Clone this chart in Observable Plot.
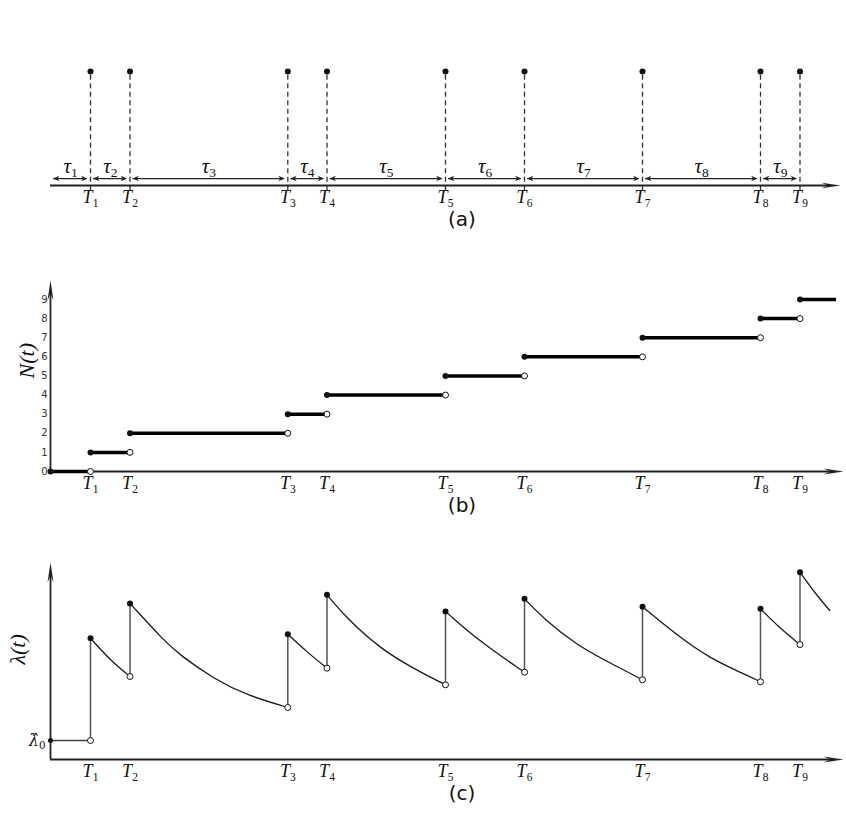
<!DOCTYPE html>
<html>
<head>
<meta charset="utf-8">
<script src="https://cdn.jsdelivr.net/npm/d3@7"></script>
<script src="https://cdn.jsdelivr.net/npm/@observablehq/plot@0.6"></script>
<style>
  html, body { margin: 0; padding: 0; background: white; }
  #chart svg { display: block; overflow: visible; }
</style>
</head>
<body>
<div id="chart"></div>
<script>
// ---- data ----
const eventTimes = [4.0, 7.95, 23.73, 27.65, 39.5, 47.4, 59.2, 71.0, 74.95];
const eventNames = ["T_1", "T_2", "T_3", "T_4", "T_5", "T_6", "T_7", "T_8", "T_9"];
const intervalNames = ["τ_1", "τ_2", "τ_3", "τ_4", "τ_5", "τ_6", "τ_7", "τ_8", "τ_9"];
const countTicks = [0, 1, 2, 3, 4, 5, 6, 7, 8, 9];
const countLevels = [0, 1, 2, 3, 4, 5, 6, 7, 8, 9];
const tAxisEnd = 79.3;
const tStepEnd = 78.6;
const tCurveEnd = 77.93;
const lambda0 = 0.19;
const lambdaPeak = [1.213, 1.56, 1.253, 1.647, 1.48, 1.607, 1.527, 1.507, 1.873];
const lambdaBefore = [0.19, 0.83, 0.52, 0.913, 0.747, 0.873, 0.797, 0.777, 1.15];
const lambdaEnd = 1.49;
const decayTimes = [[6.0], [11.33, 13.0, 16.33, 19.67], [25.67], [29.67, 33.0, 36.33], [43.0], [49.33, 52.67, 56.0], [62.67, 66.0, 69.33], [73.0], [76.5]];
const decayValues = [[0.99], [1.19, 1.04, 0.807, 0.64], [1.073], [1.407, 1.107, 0.907], [1.173], [1.407, 1.14, 0.963], [1.24, 1.007, 0.857], [1.307], [1.657]];
const panelCaptions = ["(a)", "(b)", "(c)"];

// ---- derived tables ----
const intervals = eventTimes.map((t, i) => ({start: i === 0 ? 0 : eventTimes[i - 1], end: t, name: intervalNames[i]}));
const events = eventTimes.map((t, i) => ({t, name: eventNames[i]}));
const steps = countLevels.map((k, i) => ({level: k, start: i === 0 ? 0 : eventTimes[i - 1], end: i < eventTimes.length ? eventTimes[i] : tStepEnd}));
const decay = [];
eventTimes.forEach((t, i) => {
  decay.push({seg: i, t, l: lambdaPeak[i]});
  decayTimes[i].forEach((tt, j) => decay.push({seg: i, t: tt, l: decayValues[i][j]}));
  const last = i + 1 < eventTimes.length;
  decay.push({seg: i, t: last ? eventTimes[i + 1] : tCurveEnd, l: last ? lambdaBefore[i + 1] : lambdaEnd});
});
const jumps = eventTimes.map((t, i) => ({t, lo: lambdaBefore[i], hi: lambdaPeak[i]}));

// ---- arrowhead symbols (tip at origin), length = 2r ----
function arrowSymbol(dx, dy, w, notch) {
  return {draw(ctx, size) {
    const r = Math.sqrt(size / Math.PI), L = 2 * r;
    const px = -dy, py = dx; // perpendicular
    ctx.moveTo(0, 0);
    ctx.lineTo(-dx * L + px * w * L, -dy * L + py * w * L);
    ctx.lineTo(-dx * L * notch, -dy * L * notch);
    ctx.lineTo(-dx * L - px * w * L, -dy * L - py * w * L);
    ctx.closePath();
  }};
}
const arrowRight = arrowSymbol(1, 0, 0.15, 0.65);
const arrowUp = arrowSymbol(0, -1, 0.15, 0.65);
const tipRight = arrowSymbol(1, 0, 0.42, 0.7);
const tipLeft = arrowSymbol(-1, 0, 0.42, 0.7);

const ink = "#222";
const serif = "Liberation Serif";
const common = {
  width: 846, marginLeft: 50, marginRight: 3,
  x: {domain: [0, tAxisEnd], axis: null},
  style: {fontFamily: "DejaVu Sans", fontSize: "10px", color: "#333", background: "white", overflow: "visible"}
};
const tLabels = () => Plot.text(events, {x: "t", y: () => 0, text: "name", dy: 12, fontFamily: serif, fontStyle: "italic", fontSize: 18, fill: "#111"});
const caption = (s, dy) => Plot.text([s], {frameAnchor: "bottom", lineAnchor: "middle", dx: 15, dy, fontSize: 20, fontFamily: "DejaVu Sans", fill: "#111"});

// ---- panel (a) ----
const arrowY = 0.061;
const pa = Plot.plot({
  ...common, height: 230, marginTop: 71, marginBottom: 45,
  y: {domain: [0, 1], axis: null},
  marks: [
    Plot.ruleX(eventTimes, {x: d => d, y1: -0.045, y2: 1, stroke: "#333", strokeWidth: 1.3, strokeDasharray: "5,3.5"}),
    Plot.ruleY([0], {x1: 0, x2: 78.0, stroke: ink, strokeWidth: 2}),
    Plot.dot([tAxisEnd - 0.3], {x: d => d, y: () => 0, symbol: arrowRight, r: 9.5, fill: ink}),
    Plot.ruleY(intervals, {y: () => arrowY, x1: d => d.start + 0.3, x2: d => d.end - 0.35, stroke: ink, strokeWidth: 1.2}),
    Plot.dot(intervals, {x: d => d.start + 0.25, y: () => arrowY, symbol: tipLeft, r: 3.2, fill: ink}),
    Plot.dot(intervals, {x: d => d.end - 0.3, y: () => arrowY, symbol: tipRight, r: 3.2, fill: ink}),
    Plot.dot(eventTimes, {x: d => d, y: () => 1, r: 3, fill: "#111"}),
    Plot.text(intervals, {x: d => (d.start + d.end) / 2, y: () => 0.167, text: "name", fontFamily: serif, fontStyle: "italic", fontSize: 21, fill: "#111"}),
    tLabels(),
    caption(panelCaptions[0], 34)
  ]
});

// ---- panel (b) ----
const pb = Plot.plot({
  ...common, height: 292, marginTop: 69, marginBottom: 51,
  y: {domain: [0, 9], ticks: countTicks, tickSize: 0, tickPadding: 3, label: null},
  marks: [
    Plot.ruleY([0], {x1: 0, x2: 78.3, stroke: ink, strokeWidth: 1.8}),
    Plot.ruleX([0], {y1: 0, y2: 9.4, stroke: ink, strokeWidth: 1.8}),
    Plot.dot([0], {x: d => d, y: () => 10.0, symbol: arrowUp, r: 10, fill: ink}),
    Plot.dot([tAxisEnd], {x: d => d, y: () => 0, symbol: arrowRight, r: 10, fill: ink}),
    Plot.ruleY(steps, {y: "level", x1: "start", x2: "end", stroke: "#000", strokeWidth: 3.5}),
    Plot.dot(steps, {x: "start", y: "level", r: 3, fill: "#111"}),
    Plot.dot(steps.filter(d => d.level < 9), {x: "end", y: "level", r: 3, fill: "white", stroke: "#111", strokeWidth: 1}),
    Plot.text(["N(t)"], {frameAnchor: "left", y: () => 4.87, dx: -24, rotate: -90, fontFamily: serif, fontStyle: "italic", fontSize: 22, fill: "#111"}),
    tLabels(),
    caption(panelCaptions[1], 34)
  ]
});

// ---- panel (c) ----
const pc = Plot.plot({
  ...common, height: 302, marginTop: 37, marginBottom: 65,
  y: {domain: [0, 2], axis: null},
  marks: [
    Plot.ruleY([0], {x1: 0, x2: 78.3, stroke: ink, strokeWidth: 1.8}),
    Plot.ruleX([0], {y1: 0, y2: 1.85, stroke: ink, strokeWidth: 1.8}),
    Plot.dot([0], {x: d => d, y: () => 1.97, symbol: arrowUp, r: 10, fill: ink}),
    Plot.dot([tAxisEnd], {x: d => d, y: () => 0, symbol: arrowRight, r: 10, fill: ink}),
    Plot.ruleY([lambda0], {y: d => d, x1: 0, x2: eventTimes[0], stroke: "#444", strokeWidth: 1.4}),
    Plot.ruleX(jumps, {x: "t", y1: "lo", y2: "hi", stroke: "#555", strokeWidth: 1.5}),
    Plot.line(decay, {x: "t", y: "l", z: "seg", curve: "basis", stroke: "#1a1a1a", strokeWidth: 1.3}),
    Plot.dot([lambda0], {x: () => 0, y: d => d, r: 2.5, fill: "#111"}),
    Plot.dot(jumps, {x: "t", y: "hi", r: 3, fill: "#111"}),
    Plot.dot(jumps, {x: "t", y: "lo", r: 3, fill: "white", stroke: "#111", strokeWidth: 1}),
    Plot.text(["λ(t)"], {frameAnchor: "left", y: () => 0.95, dx: -33, rotate: -90, fontFamily: serif, fontStyle: "italic", fontSize: 22, fill: "#111"}),
    Plot.text(["λ̂_0"], {x: () => 0, y: () => lambda0, dx: -5, textAnchor: "end", fontFamily: "DejaVu Serif", fontStyle: "italic", fontSize: 16, fill: "#111"}),
    tLabels(),
    caption(panelCaptions[2], 34)
  ]
});

// subscripts as real tspans
const NS = "http://www.w3.org/2000/svg";
function subscripts(svg) {
  svg.querySelectorAll("text").forEach(el => {
    if (el.querySelector("tspan")) return;
    const s = el.textContent;
    const k = s.indexOf("_");
    if (k < 0) return;
    el.textContent = "";
    const a = document.createElementNS(NS, "tspan");
    a.textContent = s.slice(0, k);
    const b = document.createElementNS(NS, "tspan");
    b.textContent = s.slice(k + 1);
    b.setAttribute("font-size", "0.64em");
    b.setAttribute("dy", "0.28em");
    b.setAttribute("font-style", "normal");
    el.append(a, b);
  });
}
const root = document.getElementById("chart");
[pa, pb, pc].forEach(p => { subscripts(p); root.append(p); });
</script>
</body>
</html>
